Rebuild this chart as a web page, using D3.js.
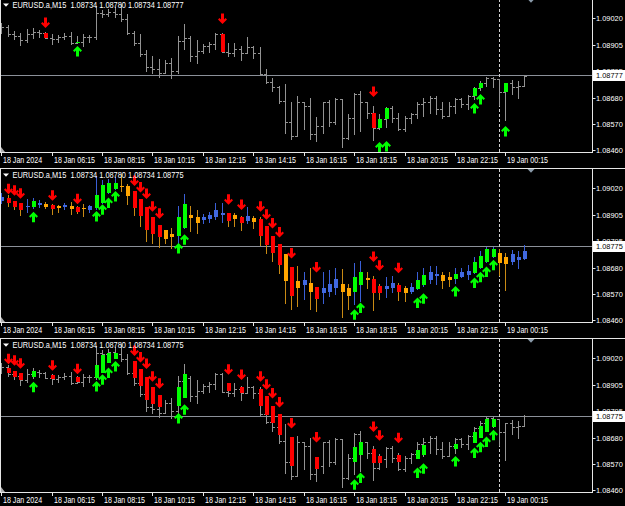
<!DOCTYPE html>
<html><head><meta charset="utf-8">
<script src="https://cdn.jsdelivr.net/npm/d3@7"></script>
<style>html,body{margin:0;padding:0;background:#000;overflow:hidden}svg{display:block}</style>
</head><body>
<svg id="c" width="625" height="506"></svg>
<script>
// ---------------- DATA (EURUSD.a M15, 18 Jan 04:15 -> 19 Jan 01:00) ----------------
const barOpen=[1.08974,1.08985,1.08952,1.08945,1.08928,1.08952,1.08962,1.08958,1.08937,1.08934,1.08942,1.08945,1.08916,1.08920,1.08940,1.08942,1.09044,1.09037,1.09047,1.09037,1.09016,1.08959,1.08917,1.08867,1.08811,1.08804,1.08789,1.08832,1.08797,1.08924,1.08938,1.08860,1.08882,1.08903,1.08910,1.08954,1.08877,1.08874,1.08889,1.08874,1.08900,1.08874,1.08782,1.08750,1.08726,1.08669,1.08577,1.08520,1.08662,1.08648,1.08527,1.08563,1.08662,1.08577,1.08676,1.08513,1.08598,1.08697,1.08662,1.08618,1.08554,1.08592,1.08639,1.08598,1.08549,1.08598,1.08612,1.08655,1.08662,1.08683,1.08634,1.08605,1.08648,1.08676,1.08655,1.08690,1.08724,1.08746,1.08768,1.08761,1.08707,1.08746,1.08726,1.08734];
const barHigh=[1.08999,1.08991,1.08965,1.08957,1.08976,1.08979,1.08971,1.08962,1.08952,1.08948,1.08959,1.08962,1.08945,1.08952,1.08951,1.09073,1.09056,1.09059,1.09066,1.09080,1.09037,1.08967,1.08952,1.08886,1.08860,1.08846,1.08843,1.08853,1.08945,1.08995,1.08945,1.08928,1.08910,1.08920,1.08959,1.08957,1.08917,1.08914,1.08903,1.08942,1.08903,1.08896,1.08804,1.08768,1.08733,1.08740,1.08662,1.08690,1.08662,1.08683,1.08602,1.08662,1.08673,1.08679,1.08676,1.08612,1.08704,1.08711,1.08666,1.08648,1.08612,1.08642,1.08648,1.08619,1.08605,1.08619,1.08662,1.08683,1.08690,1.08690,1.08662,1.08662,1.08679,1.08683,1.08693,1.08726,1.08754,1.08772,1.08772,1.08764,1.08747,1.08758,1.08754,1.08780];
const barLow=[1.08957,1.08945,1.08934,1.08906,1.08920,1.08937,1.08940,1.08937,1.08911,1.08920,1.08934,1.08910,1.08914,1.08903,1.08921,1.08931,1.09027,1.09030,1.09027,1.09009,1.08952,1.08906,1.08860,1.08797,1.08789,1.08772,1.08787,1.08768,1.08789,1.08889,1.08839,1.08828,1.08874,1.08877,1.08889,1.08877,1.08860,1.08860,1.08843,1.08872,1.08853,1.08778,1.08744,1.08711,1.08659,1.08534,1.08506,1.08520,1.08549,1.08506,1.08499,1.08534,1.08560,1.08570,1.08471,1.08506,1.08527,1.08541,1.08598,1.08503,1.08549,1.08556,1.08577,1.08546,1.08541,1.08574,1.08598,1.08605,1.08619,1.08612,1.08598,1.08605,1.08619,1.08641,1.08636,1.08676,1.08716,1.08733,1.08726,1.08651,1.08588,1.08697,1.08683,1.08734];
const barClose=[1.08985,1.08952,1.08945,1.08928,1.08952,1.08962,1.08958,1.08937,1.08934,1.08942,1.08945,1.08916,1.08920,1.08940,1.08942,1.09044,1.09037,1.09047,1.09037,1.09016,1.08959,1.08917,1.08867,1.08811,1.08804,1.08789,1.08832,1.08797,1.08924,1.08938,1.08860,1.08882,1.08903,1.08910,1.08954,1.08877,1.08874,1.08889,1.08874,1.08900,1.08874,1.08782,1.08750,1.08726,1.08669,1.08577,1.08520,1.08662,1.08648,1.08527,1.08563,1.08662,1.08577,1.08676,1.08513,1.08598,1.08697,1.08662,1.08618,1.08554,1.08592,1.08639,1.08598,1.08549,1.08598,1.08612,1.08655,1.08662,1.08683,1.08634,1.08605,1.08648,1.08676,1.08655,1.08690,1.08724,1.08746,1.08768,1.08761,1.08707,1.08746,1.08726,1.08734,1.08775];
// Heiken Ashi bodies (middle panel colour candles)
const haOpen=[1.08968,1.08978,1.08968,1.08957,1.08940,1.08941,1.08950,1.08952,1.08951,1.08945,1.08940,1.08945,1.08940,1.08937,1.08928,1.08935,1.08959,1.08999,1.09019,1.09030,1.09030,1.09009,1.08974,1.08942,1.08896,1.08863,1.08843,1.08825,1.08818,1.08853,1.08906,1.08899,1.08884,1.08889,1.08896,1.08906,1.08914,1.08906,1.08896,1.08882,1.08894,1.08889,1.08860,1.08818,1.08785,1.08740,1.08686,1.08626,1.08608,1.08619,1.08602,1.08574,1.08581,1.08595,1.08615,1.08595,1.08577,1.08609,1.08639,1.08636,1.08605,1.08591,1.08594,1.08609,1.08595,1.08581,1.08591,1.08608,1.08631,1.08645,1.08652,1.08641,1.08634,1.08643,1.08651,1.08659,1.08679,1.08707,1.08730,1.08747,1.08726,1.08707,1.08716,1.08721];
const haClose=[1.08985,1.08957,1.08941,1.08927,1.08945,1.08964,1.08958,1.08941,1.08931,1.08938,1.08948,1.08931,1.08920,1.08930,1.08945,1.08992,1.09033,1.09042,1.09042,1.09027,1.08988,1.08938,1.08903,1.08843,1.08825,1.08815,1.08804,1.08815,1.08899,1.08952,1.08893,1.08872,1.08899,1.08906,1.08928,1.08917,1.08882,1.08889,1.08874,1.08903,1.08877,1.08818,1.08778,1.08743,1.08693,1.08626,1.08563,1.08598,1.08629,1.08581,1.08549,1.08598,1.08615,1.08634,1.08577,1.08560,1.08641,1.08666,1.08629,1.08574,1.08573,1.08605,1.08619,1.08577,1.08574,1.08602,1.08631,1.08652,1.08665,1.08655,1.08624,1.08631,1.08655,1.08665,1.08670,1.08707,1.08733,1.08761,1.08761,1.08704,1.08697,1.08740,1.08726,1.08754];
// signals of panels 2 and 3 (bar index, arrow tip price)
const sigDownIdx=[1,2,3,8,12,21,22,23,24,25,36,38,41,42,43,44,46,50,59,60,63];
const sigDownLevel=[1.08995,1.08988,1.08976,1.08967,1.08952,1.09030,1.09002,1.08974,1.08920,1.08891,1.08950,1.08928,1.08920,1.08886,1.08849,1.08811,1.08721,1.08662,1.08707,1.08669,1.08659];
const sigUpIdx=[5,15,16,17,18,28,29,56,57,66,67,72,75,76,77,78];
const sigUpLevel=[1.08920,1.08924,1.08952,1.08981,1.09009,1.08787,1.08825,1.08506,1.08534,1.08556,1.08574,1.08605,1.08641,1.08665,1.08687,1.08716];
// signals of panel 1
const p1DownIdx=[7,35,59];
const p1DownLevel=[1.08979,1.08996,1.08685];
const p1UpIdx=[12,60,61,75,76,80];
const p1UpLevel=[1.08902,1.08494,1.08498,1.08660,1.08698,1.08562];
// axes
const timeTickIdx=[0,8,16,24,32,40,48,56,64,72,80];
const timeTickLabels=["18 Jan 2024","18 Jan 06:15","18 Jan 08:15","18 Jan 10:15","18 Jan 12:15","18 Jan 14:15","18 Jan 16:15","18 Jan 18:15","18 Jan 20:15","18 Jan 22:15","19 Jan 00:15"];
const priceTicks=[1.09020,1.08905,1.08795,1.08680,1.08570,1.08460];
const priceTickLabels=["1.09020","1.08905","1.08795","1.08680","1.08570","1.08460"];
const symbolName="EURUSD.a,M15";
const headerOHLC=[[1.08734,1.08780,1.08734,1.08777],[1.08734,1.08780,1.08734,1.08775],[1.08734,1.08780,1.08734,1.08775]];
const daySeparatorIdx=79;
const priceDomain=[1.08460,1.09020];

// ---------------- RENDER ----------------
const svg=d3.select('#c');
svg.append('rect').attr('width',625).attr('height',506).attr('fill','#000');
const FONT='"Liberation Sans", Arial, sans-serif';
const cr=v=>Math.round(v)+0.5;
const n=barOpen.length;
const idx=d3.range(n);
const x=d3.scaleLinear().domain([0,1]).range([1.3,7.6]);
const COL={red:'#ff0000',green:'#00ff00',orange:'#ffa500',blue:'#4169e1',wickBull:'#3a5fd6',wickBear:'#c98a14',gray:'#939393',frame:'#e6e6e6'};
const downSet=new Set(sigDownIdx), upSet=new Set(sigUpIdx);

function arrowPath(xc,ty,down){
  const s=down?-1:1;
  const pts=[[0,0],[4.5,4.5],[3,6],[1.5,4.5],[1.5,10.5],[-1.5,10.5],[-1.5,4.5],[-3,6],[-4.5,4.5]];
  return 'M'+pts.map(p=>[xc+p[0],ty+s*p[1]].join(',')).join('L')+'Z';
}

[0,1,2].forEach(p=>{
  const oy=p*170;
  const g=svg.append('g').attr('transform',`translate(0,${oy})`);
  const y=d3.scaleLinear().domain(priceDomain).range([150,18.3]);
  const clipId='clip'+p;
  g.append('clipPath').attr('id',clipId).append('rect').attr('x',1).attr('y',-1).attr('width',591).attr('height',153);
  const plot=g.append('g').attr('clip-path',`url(#${clipId})`);
  const close=headerOHLC[p][3];

  plot.append('line').attr('x1',0).attr('x2',592).attr('y1',cr(y(close))).attr('y2',cr(y(close)))
    .attr('stroke','#8b9099').attr('stroke-width',1);
  plot.append('line').attr('x1',cr(x(daySeparatorIdx))).attr('x2',cr(x(daySeparatorIdx))).attr('y1',-1).attr('y2',152)
    .attr('stroke','#d0d0d0').attr('stroke-width',1).attr('stroke-dasharray','3,2');

  if(p!==1){
    plot.append('g').selectAll('path').data(idx).join('path')
      .attr('d',i=>{const c=Math.round(x(i));const xc=c+0.5;
        const yh=Math.round(y(barHigh[i])), yl=Math.round(y(barLow[i]))+1;
        const yo=cr(y(barOpen[i])), yc=cr(y(barClose[i]));
        return `M${xc},${yh}V${yl}M${c-2},${yo}H${c}M${c+1},${yc}H${c+3}`;})
      .attr('stroke',COL.gray).attr('stroke-width',1).attr('fill','none');
  }
  const body=(sel,topF,botF,colF)=>sel.attr('x',i=>Math.round(x(i))-1).attr('width',4)
      .attr('y',i=>Math.round(y(topF(i))))
      .attr('height',i=>Math.max(1,Math.round(y(botF(i)))-Math.round(y(topF(i)))))
      .attr('fill',colF);
  if(p===1){
    plot.append('g').selectAll('line').data(idx).join('line')
      .attr('x1',i=>cr(x(i))).attr('x2',i=>cr(x(i)))
      .attr('y1',i=>Math.round(y(Math.max(barHigh[i],haOpen[i],haClose[i]))))
      .attr('y2',i=>Math.round(y(Math.min(barLow[i],haOpen[i],haClose[i])))+1)
      .attr('stroke',i=>haClose[i]>=haOpen[i]?COL.wickBull:COL.wickBear).attr('stroke-width',1);
    body(plot.append('g').selectAll('rect').data(idx).join('rect'),
      i=>Math.max(haOpen[i],haClose[i]),i=>Math.min(haOpen[i],haClose[i]),
      i=>downSet.has(i)?COL.red:upSet.has(i)?COL.green:(haClose[i]>=haOpen[i]?COL.blue:COL.orange));
  }
  if(p===2){
    const sig=sigDownIdx.concat(sigUpIdx);
    body(plot.append('g').selectAll('rect').data(sig).join('rect'),
      i=>Math.max(haOpen[i],haClose[i]),i=>Math.min(haOpen[i],haClose[i]),
      i=>downSet.has(i)?COL.red:COL.green);
  }
  if(p===0){
    const sig=p1DownIdx.concat(p1UpIdx);
    body(plot.append('g').selectAll('rect').data(sig).join('rect'),
      i=>Math.max(barOpen[i],barClose[i]),i=>Math.min(barOpen[i],barClose[i]),
      i=>p1DownIdx.includes(i)?COL.red:COL.green);
  }
  const dI=p===0?p1DownIdx:sigDownIdx, dL=p===0?p1DownLevel:sigDownLevel;
  const uI=p===0?p1UpIdx:sigUpIdx, uL=p===0?p1UpLevel:sigUpLevel;
  plot.append('g').selectAll('path').data(dI).join('path')
    .attr('d',(i,k)=>arrowPath(cr(x(i)),y(dL[k]),true)).attr('fill',COL.red);
  plot.append('g').selectAll('path').data(uI).join('path')
    .attr('d',(i,k)=>arrowPath(cr(x(i)),y(uL[k]),false)).attr('fill',COL.green);

  const fr=g.append('g').attr('stroke',COL.frame).attr('stroke-width',1).attr('fill','none');
  fr.append('line').attr('x1',0).attr('x2',625).attr('y1',-1.5).attr('y2',-1.5);
  fr.append('line').attr('x1',0).attr('x2',593).attr('y1',152.5).attr('y2',152.5);
  fr.append('line').attr('x1',592.5).attr('x2',592.5).attr('y1',-1.5).attr('y2',152.5);
  fr.append('line').attr('x1',0.5).attr('x2',0.5).attr('y1',-1.5).attr('y2',152.5);
  g.append('path').attr('d','M527.5,-1L534.5,-1L531,2.8Z').attr('fill','#8a9aaa');
  g.append('path').attr('d','M1,147L1,152L5,152Z').attr('fill','#b0b0b0');

  const xa=g.append('g').attr('transform','translate(0,152.5)')
    .call(d3.axisBottom(x).tickValues(timeTickIdx).tickFormat((d,k)=>timeTickLabels[k]).tickSize(3.5).tickSizeOuter(0));
  xa.select('.domain').remove();
  xa.selectAll('.tick').attr('transform',d=>`translate(${cr(x(d))},0)`);
  xa.selectAll('.tick line').attr('stroke',COL.frame);
  xa.selectAll('.tick text').attr('fill','#fff').attr('text-anchor','start').attr('x',1.5).attr('y',4)
    .attr('font-family',FONT).attr('font-size','8.5px').attr('class','t-time');

  const ya=g.append('g').attr('transform','translate(592.5,0)')
    .call(d3.axisRight(y).tickValues(priceTicks).tickFormat((d,k)=>priceTickLabels[k]).tickSize(3).tickSizeOuter(0));
  ya.select('.domain').remove();
  ya.selectAll('.tick').attr('transform',d=>`translate(0,${cr(y(d))})`);
  ya.selectAll('.tick line').attr('stroke',COL.frame);
  ya.selectAll('.tick text').attr('fill','#fff').attr('x',3.5).attr('dy','0.32em')
    .attr('font-family',FONT).attr('font-size','7.8px').attr('class','t-price');

  const yc=cr(y(close));
  g.append('rect').attr('x',593).attr('y',yc-5.5).attr('width',32).attr('height',11).attr('fill','#fff');
  g.append('text').attr('x',596).attr('y',yc).attr('dy','0.34em').attr('fill','#000')
    .attr('font-family',FONT).attr('font-size','7.8px').attr('class','t-price').text(d3.format('.5f')(close));

  g.append('path').attr('d','M3,3.5L9,3.5L6,6.8Z').attr('fill','#fff');
  g.append('text').attr('x',12.5).attr('y',8.3).attr('fill','#fff').attr('font-family',FONT).attr('font-size','8.5px')
    .attr('class','t-head').style('white-space','pre')
    .text(symbolName+'  '+headerOHLC[p].map(v=>d3.format('.5f')(v)).join(' '));
});

function squeeze(cls,k){
  svg.selectAll('.'+cls).each(function(){const w=this.getComputedTextLength();
    this.setAttribute('textLength',(w*k).toFixed(2));this.setAttribute('lengthAdjust','spacingAndGlyphs');});
}
squeeze('t-time',0.835);squeeze('t-price',0.95);squeeze('t-head',0.87);
</script>
</body></html>
